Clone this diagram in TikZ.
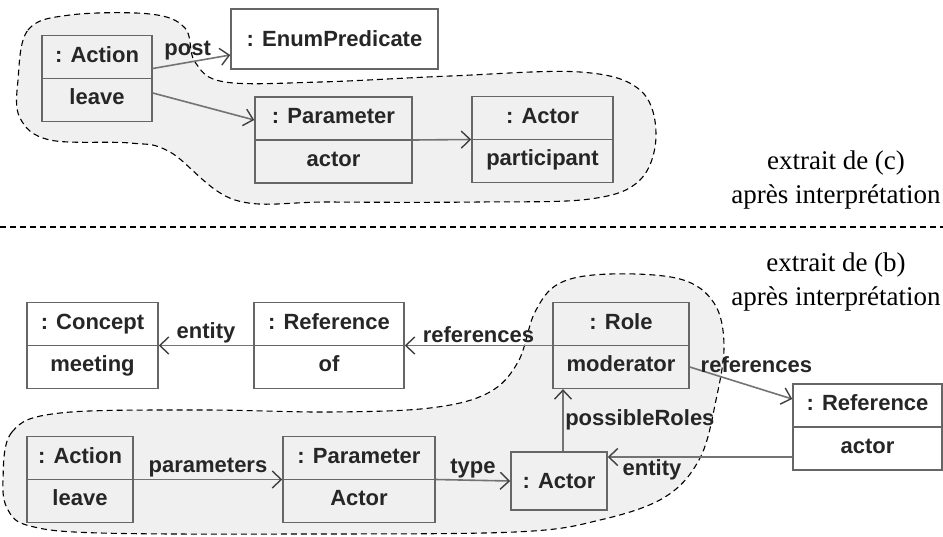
\documentclass[tikz,border=0pt]{standalone}
\usepackage{fontspec}
\setmainfont{Liberation Serif}
\newfontfamily\objsans{Liberation Sans}
\usetikzlibrary{arrows.meta, shapes.multipart}

\newcommand\objfont{\fontsize{22}{25}\selectfont\objsans\bfseries}

\begin{document}
\begin{tikzpicture}[
      x=1pt, y=-1pt,
      obj/.style={rectangle split, rectangle split parts=2, draw=black!60, line width=1.5pt,
        inner ysep=8.2pt, inner xsep=2pt, text=black!85, font=\objfont},
      objone/.style={draw=black!60, line width=1.5pt, minimum height=58pt, inner sep=2pt,
        text=black!85, font=\objfont},
      link/.style={draw=black!55, line width=1.6pt,
        -{Straight Barb[length=9pt, width=17pt, line width=1.4pt, black!75]}},
      lbl/.style={inner sep=1.5pt, text=black!85, font=\objfont},
      blob/.style={draw=black, fill=black!6, line width=1.1pt, dash pattern=on 6pt off 4pt},
      caption/.style={align=center, font=\fontsize{27}{34}\selectfont}
    ]
    \useasboundingbox (0,0) rectangle (943,536);

    % regions kept after interpretation
    \draw[blob] plot[smooth cycle, tension=0.6] coordinates {
      (18,80) (28,30) (70,15) (150,14) (185,28) (195,62) (225,82) (320,82) (450,76)
      (580,72) (640,90) (656,135) (640,180) (590,199) (480,202) (330,202) (235,200)
      (170,152) (130,143) (50,140) (20,118)};
    \draw[blob] plot[smooth cycle, tension=0.6] coordinates {
      (3,480) (12,432) (60,413) (200,410) (330,412) (430,408) (488,393) (518,362)
      (535,312) (560,283) (610,274) (680,279) (714,303) (724,345) (716,400) (700,458)
      (665,497) (600,520) (515,532) (300,534) (100,533) (30,526) (8,510)};

    \draw[line width=1.1pt, dash pattern=on 6pt off 4pt] (0,227) -- (943,227);

    % extrait de (c)
    \node[obj, minimum width=110pt] (actc) at (97,78.5) {\strut: Action\nodepart{two}\strut leave};
    \node[objone, minimum width=207pt, minimum height=60pt] (enum) at (334.5,39) {: EnumPredicate};
    \node[obj, minimum width=157pt] (parc) at (333.5,140) {\strut: Parameter\nodepart{two}\strut actor};
    \node[obj, minimum width=141pt] (actorc) at (542.5,139.5) {\strut: Actor\nodepart{two}\strut participant};

    \draw[link] ([yshift=10pt]actc.east) -- node[lbl, above, pos=0.45] {post} ([yshift=-16pt]enum.west);
    \draw[link] ([yshift=-14.5pt]actc.east) -- ([yshift=20pt]parc.west);
    \draw[link] (parc.east) -- (actorc.west);

    \node[caption] (capc) at (836,180) {extrait de (c)\\après interprétation};

    % extrait de (b)
    \node[caption] (capb) at (836,282) {extrait de (b)\\après interprétation};

    \node[obj, minimum width=131pt] (concept) at (92.5,345.5) {\strut: Concept\nodepart{two}\strut meeting};
    \node[obj, minimum width=150pt] (refof) at (329,345.5) {\strut: Reference\nodepart{two}\strut of};
    \node[obj, minimum width=136pt] (role) at (621,345.5) {\strut: Role\nodepart{two}\strut moderator};
    \node[obj, minimum width=149pt] (refactor) at (867.5,427) {\strut: Reference\nodepart{two}\strut actor};
    \node[objone, minimum width=96pt] (actorb) at (559,481) {: Actor};
    \node[obj, minimum width=106pt] (actb) at (80,479.5) {\strut: Action\nodepart{two}\strut leave};
    \node[obj, minimum width=152pt] (parb) at (359,479.5) {\strut: Parameter\nodepart{two}\strut Actor};

    \draw[link] (refof.west) -- node[lbl, above] {entity} (concept.east);
    \draw[link] (role.west) -- node[lbl, above] {references} (refof.east);
    \draw[link] ([yshift=-21.5pt]role.east) -- node[lbl, above=13pt, pos=0.65] {references} ([yshift=28pt]refactor.west);
    \draw[link] ([xshift=4pt]actorb.north) -- node[lbl, right] {possibleRoles} ([xshift=4pt]actorb.north |- role.south);
    \draw[link] ([yshift=-30pt]refactor.west) -- node[lbl, below, pos=0.76] {entity} ([yshift=-30pt]refactor.west -| actorb.east);
    \draw[link] (actb.east) -- node[lbl, above] {parameters} (parb.west);
    \draw[link] (parb.east) -- node[lbl, above] {type} (actorb.west);
  \end{tikzpicture}
\end{document}
